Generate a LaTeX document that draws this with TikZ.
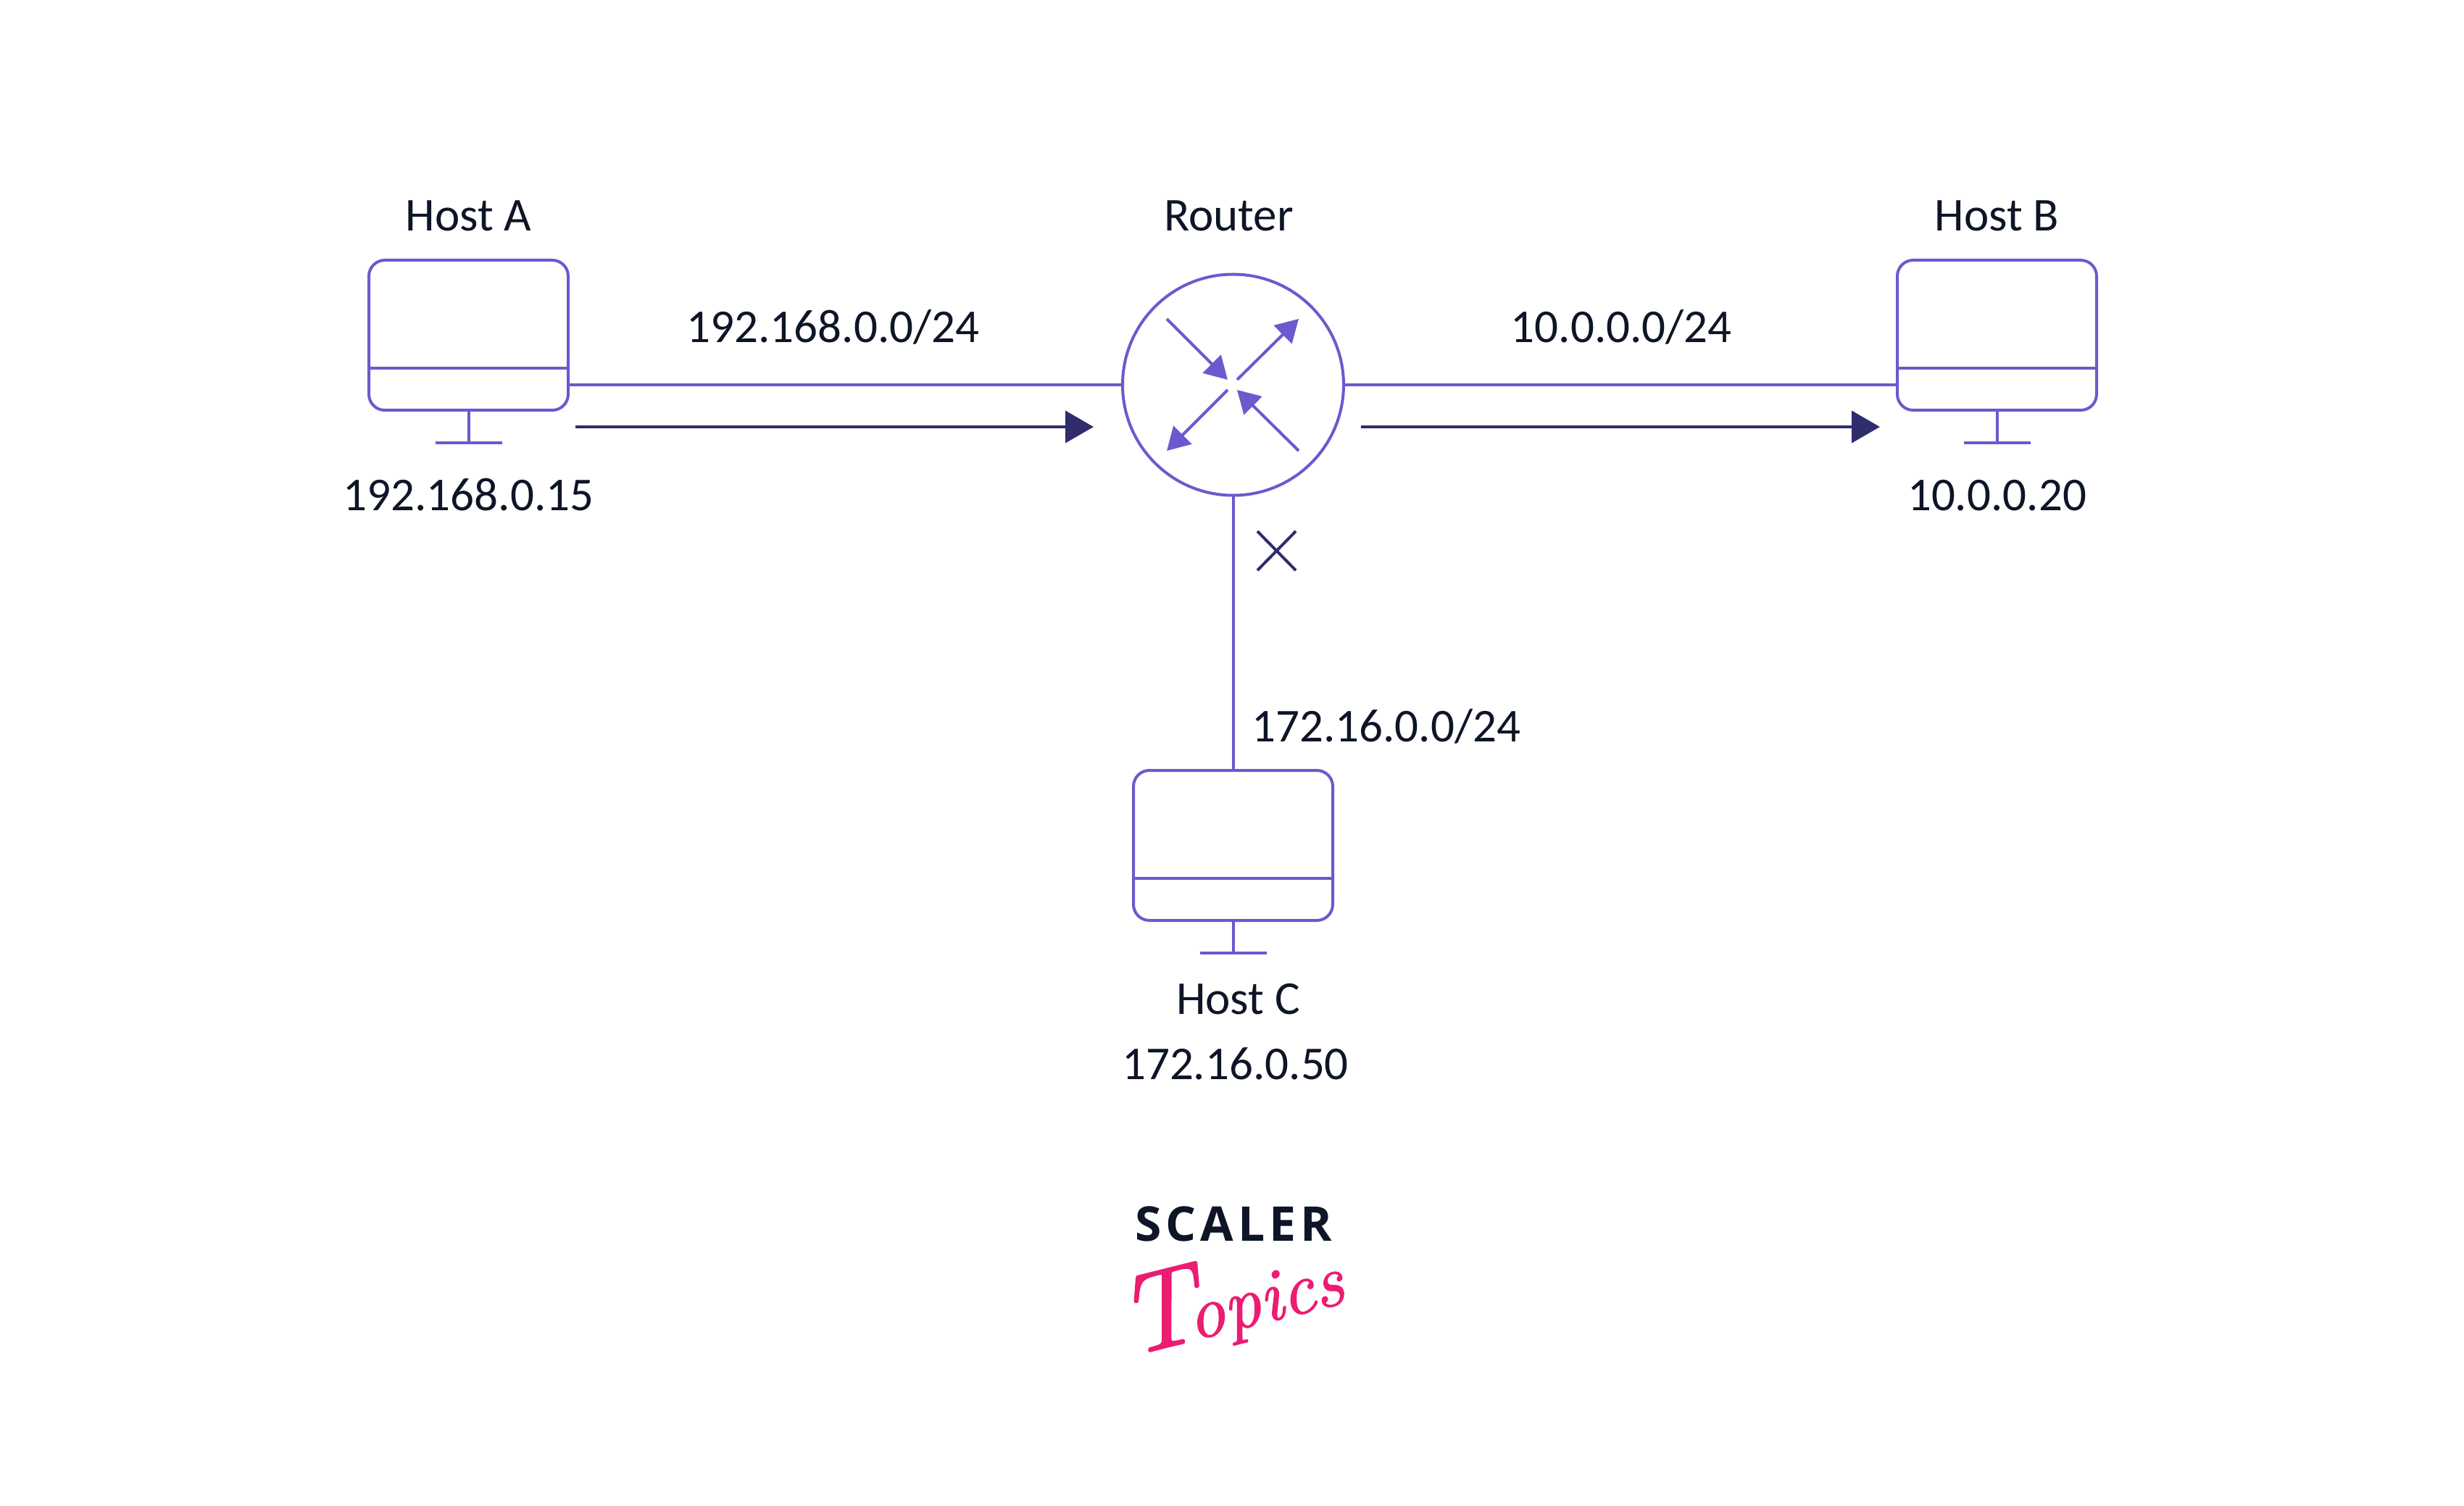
\documentclass[tikz,border=0pt]{standalone}
\usepackage{fontspec}
\setmainfont{Carlito}
\newfontfamily\logofont[LetterSpace=9]{Open Sans}
\newfontfamily\topicsfont[FakeBold=1.5]{Latin Modern Roman}
\usepackage{xcolor}
\usetikzlibrary{arrows.meta, positioning}
\definecolor{linkcolor}{HTML}{6A5ACD}
\definecolor{flowcolor}{HTML}{2F2D6B}
\definecolor{inkcolor}{HTML}{0D1526}
\definecolor{pinkcolor}{HTML}{EC1C72}
\tikzstyle{hostbox} = [rectangle, rounded corners=0.22cm,
minimum width=2.75cm,
minimum height=2.07cm,
inner sep=0, outer sep=0,
line width=0.04cm,
draw=linkcolor]
\tikzstyle{routerbox} = [circle,
minimum size=3.05cm,
inner sep=0, outer sep=0,
line width=0.04cm,
draw=linkcolor]
\tikzstyle{lbl} = [inner sep=0, text height=0.45cm, text depth=0, text=inkcolor,
font=\fontsize{18.5}{22}\selectfont]
\tikzstyle{link} = [line width=0.04cm, draw=linkcolor]
\tikzstyle{inner} = [line width=0.04cm, draw=linkcolor, -{Triangle[length=0.31cm,width=0.35cm]}]
\tikzstyle{flow} = [line width=0.04cm, draw=flowcolor, -{Triangle[length=0.39cm,width=0.44cm]}]
\begin{document}
\begin{tikzpicture}
        \useasboundingbox (0,0) rectangle (34,20.77);

        % Nodes
        \node (hosta) [hostbox] at (6.465,16.145) {};
        \node (router) [routerbox] at (17.015,15.46) {};
        \node (hostb) [hostbox, right=7.64cm of router.east, anchor=west, yshift=0.685cm] {};
        \node (hostc) [hostbox, below=3.795cm of router] {};

        \node (hostalabel) [lbl, above=0.4cm of hosta] {Host A};
        \node (routerlabel) [lbl, xshift=-0.06cm] at (hostalabel -| router) {Router};
        \node (hostblabel) [lbl, above=0.4cm of hostb] {Host B};
        \node (hostaip) [lbl, below=0.93cm of hosta] {192.168.0.15};
        \node (hostbip) [lbl, below=0.93cm of hostb] {10.0.0.20};
        \node (hostclabel) [lbl, xshift=0.07cm, below=0.84cm of hostc] {Host C};
        \node (hostcip) [lbl, xshift=-0.04cm, below=0.43cm of hostclabel] {172.16.0.50};

        \node (neta) [lbl, above=0.58cm of hosta.east |- router, anchor=south west, xshift=1.63cm] {192.168.0.0/24};
        \node (netb) [lbl, above=0.58cm of router.east, anchor=south west, xshift=2.3cm] {10.0.0.0/24};
        \node (netc) [lbl, right=0.25cm of hostc.north, anchor=south west, yshift=0.39cm] {172.16.0.0/24};

        % Computer stands
        \coordinate (standa) at ([yshift=-0.45cm]hosta.south);
        \coordinate (standb) at ([yshift=-0.45cm]hostb.south);
        \coordinate (standc) at ([yshift=-0.45cm]hostc.south);
        \draw [link] ([yshift=-0.455cm]hosta.west) -- ([yshift=-0.455cm]hosta.east);
        \draw [link] ([yshift=-0.455cm]hostb.west) -- ([yshift=-0.455cm]hostb.east);
        \draw [link] ([yshift=-0.455cm]hostc.west) -- ([yshift=-0.455cm]hostc.east);
        \draw [link] (hosta.south) -- (standa);
        \draw [link] (hostb.south) -- (standb);
        \draw [link] (hostc.south) -- (standc);
        \draw [link] ([xshift=-0.46cm]standa) -- ([xshift=0.46cm]standa);
        \draw [link] ([xshift=-0.46cm]standb) -- ([xshift=0.46cm]standb);
        \draw [link] ([xshift=-0.46cm]standc) -- ([xshift=0.46cm]standc);

        % Links
        \draw [link] (hosta.east |- router) -- (router.west);
        \draw [link] (router.east) -- (hostb.west |- router);
        \draw [link] (router.south) -- (hostc.north);

        % Router arrows
        \draw [inner] ([shift={(-0.915,0.91)}]router.center) -- ([shift={(-0.075,0.07)}]router.center);
        \draw [inner] ([shift={(0.055,0.07)}]router.center) -- ([shift={(0.905,0.91)}]router.center);
        \draw [inner] ([shift={(-0.075,-0.07)}]router.center) -- ([shift={(-0.915,-0.91)}]router.center);
        \draw [inner] ([shift={(0.905,-0.91)}]router.center) -- ([shift={(0.055,-0.07)}]router.center);

        % Traffic
        \coordinate (flowastart) at (7.94,14.88);
        \coordinate (flowaend) at (15.09,14.88);
        \coordinate (flowbstart) at (18.78,14.88);
        \coordinate (flowbend) at (25.94,14.88);
        \draw [flow] (flowastart) -- (flowaend);
        \draw [flow] (flowbstart) -- (flowbend);

        % Blocked
        \coordinate (blocka) at (17.35,13.44);
        \coordinate (blockb) at (17.88,12.90);
        \coordinate (blockc) at (17.35,12.90);
        \coordinate (blockd) at (17.88,13.44);
        \draw [line width=0.04cm, draw=flowcolor] (blocka) -- (blockb);
        \draw [line width=0.04cm, draw=flowcolor] (blockc) -- (blockd);

        % Logo
        \node (scaler) [inner sep=0, text=inkcolor, font=\logofont\bfseries\fontsize{18.8}{22}\selectfont] at (17.02,3.88) {SCALER};
        \node (topics) [inner sep=0, text=pinkcolor, rotate=14, xshift=-0.22cm, yshift=-0.08cm, font=\topicsfont\itshape\fontsize{29}{34}\selectfont, below=0.05cm of scaler] {{\fontsize{44}{44}\selectfont T}\kern-0.16em opics};

\end{tikzpicture}
\end{document}
